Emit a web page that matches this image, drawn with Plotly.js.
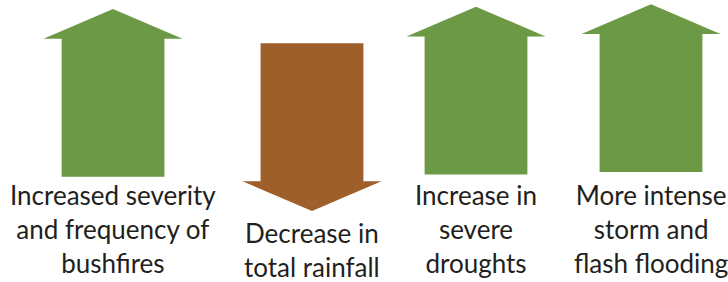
<!DOCTYPE html>
<html>
<head>
<meta charset="utf-8">
<script src="https://cdn.plot.ly/plotly-3.0.1.min.js"></script>
<style>html,body{margin:0;padding:0;background:#fff;}#chart{width:728px;height:282px;}</style>
</head>
<body>
<div id="chart"></div>
<script>
// ---- data ----
const impacts = [
  "Increased severity<br>and frequency of<br>bushfires",
  "Decrease in<br>total rainfall",
  "Increase in<br>severe<br>droughts",
  "More intense<br>storm and<br>flash flooding"
];
const direction = ["up", "down", "up", "up"];

// ---- layout / style (positions in pixel units of the 728x282 canvas) ----
const centers = [113, 312, 476, 651];
const arrowTop = [9, 43.3, 6.7, 4.3];
const labelTop = [178, 216, 178, 178];
const arrowLen = 167.7, headH = 29.7, headHalf = 69.5, shaftHalf = 51.4;
const colors = {up: "#6C9946", down: "#9E5F2B"};

function arrowPath(cx, top, dir) {
  const bottom = top + arrowLen;
  if (dir === "up") {
    const hb = top + headH;
    return {
      x: [cx, cx + headHalf, cx + shaftHalf, cx + shaftHalf, cx - shaftHalf, cx - shaftHalf, cx - headHalf, cx],
      y: [top, hb, hb, bottom, bottom, hb, hb, top]
    };
  } else {
    const hb = bottom - headH;
    return {
      x: [cx - shaftHalf, cx + shaftHalf, cx + shaftHalf, cx + headHalf, cx, cx - headHalf, cx - shaftHalf, cx - shaftHalf],
      y: [top, top, hb, hb, bottom, hb, hb, top]
    };
  }
}

const traces = impacts.map((name, i) => {
  const p = arrowPath(centers[i], arrowTop[i], direction[i]);
  return {
    type: "scatter", mode: "lines", x: p.x, y: p.y, name: name,
    fill: "toself", fillcolor: colors[direction[i]],
    line: {width: 0, color: colors[direction[i]]},
    hoverinfo: "skip", showlegend: false
  };
});

const annotations = impacts.map((t, i) => ({
  x: centers[i], y: labelTop[i], xref: "x", yref: "y",
  text: t, showarrow: false, xanchor: "center", yanchor: "top",
  align: "center", borderpad: 0,
  font: {family: "Lato, 'Open Sans', sans-serif", size: 26, color: "#231F20"}
}));

const layout = {
  width: 728, height: 282,
  margin: {l: 0, r: 0, t: 0, b: 0, pad: 0},
  paper_bgcolor: "#ffffff", plot_bgcolor: "#ffffff",
  xaxis: {range: [0, 728], visible: false, fixedrange: true},
  yaxis: {range: [282, 0], visible: false, fixedrange: true},
  annotations: annotations,
  showlegend: false
};

Plotly.newPlot("chart", traces, layout, {displayModeBar: false, staticPlot: true});
</script>
</body>
</html>
